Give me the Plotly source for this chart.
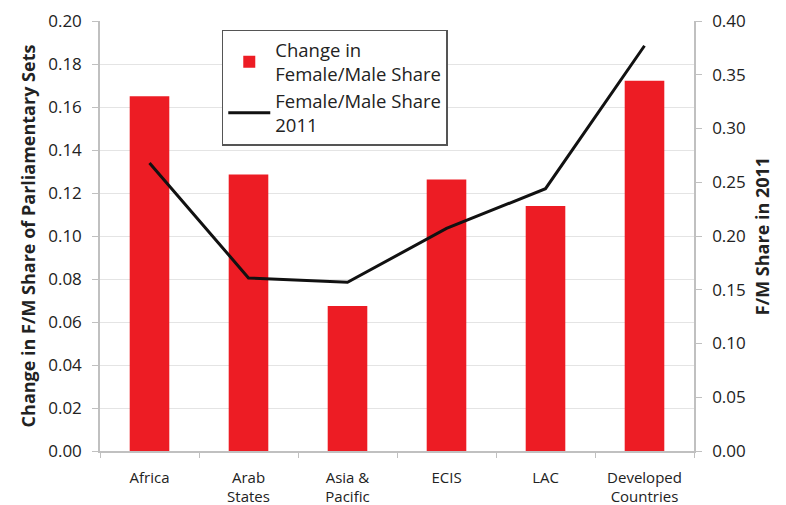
import plotly.graph_objects as go

categories = ["Africa", "Arab<br>States", "Asia &<br>Pacific", "ECIS", "LAC", "Developed<br>Countries"]
change_share = [0.165, 0.1286, 0.0674, 0.1263, 0.114, 0.1722]
share_2011 = [0.268, 0.161, 0.157, 0.207, 0.244, 0.377]

FONT = "Open Sans"
TXT = "#222222"

fig = go.Figure()
fig.add_trace(go.Bar(
    x=categories, y=change_share,
    name="Change in<br>Female/Male Share",
    marker=dict(color="#ED1C24", line=dict(width=0)),
    yaxis="y",
))
fig.add_trace(go.Scatter(
    x=categories, y=share_2011,
    name="Female/Male Share<br>2011",
    mode="lines",
    line=dict(color="#111111", width=3),
    yaxis="y2",
))

fig.update_layout(
    width=786, height=505,
    margin=dict(l=100, r=92, t=21, b=54, autoexpand=False),
    paper_bgcolor="white", plot_bgcolor="white",
    font=dict(family=FONT, color=TXT, size=16),
    bargap=0.6,
    showlegend=True,
    legend=dict(
        x=0.205, y=0.98, xanchor="left", yanchor="top",
        bordercolor="#555555", borderwidth=1.5,
        bgcolor="white",
        font=dict(family=FONT, size=18.5, color=TXT),
        tracegroupgap=1,
        itemwidth=42,
    ),
    xaxis=dict(
        showline=True, linecolor="#c0c0c0", linewidth=1.5,
        ticks="outside", tickson="boundaries", ticklen=5, tickcolor="#c0c0c0",
        tickfont=dict(size=15, family=FONT, color=TXT),
        ticklabelstandoff=12,
        showgrid=False, automargin=False,
    ),
    yaxis=dict(
        range=[0, 0.2], dtick=0.02, tickformat=".2f",
        showline=True, linecolor="#c0c0c0", linewidth=1.5,
        ticks="outside", ticklen=6, tickcolor="#c0c0c0",
        showgrid=True, gridcolor="#e4e4e4", gridwidth=1,
        tickfont=dict(size=17, family=FONT, color=TXT),
        ticklabelstandoff=7,
        title=dict(text="<b>Change in F/M Share of Parliamentary Sets</b>",
                   font=dict(size=18, family=FONT, color=TXT), standoff=8),
        zeroline=False, automargin=False,
    ),
    yaxis2=dict(
        range=[0, 0.4], dtick=0.05, tickformat=".2f",
        overlaying="y", side="right",
        showline=True, linecolor="#c0c0c0", linewidth=1.5,
        ticks="outside", ticklen=6, tickcolor="#c0c0c0",
        showgrid=False, zeroline=False,
        tickfont=dict(size=17, family=FONT, color=TXT),
        ticklabelstandoff=7,
        title=dict(text="<b>F/M Share in 2011</b>",
                   font=dict(size=18, family=FONT, color=TXT), standoff=12),
        automargin=False,
    ),
)

fig.write_html("out.html")
